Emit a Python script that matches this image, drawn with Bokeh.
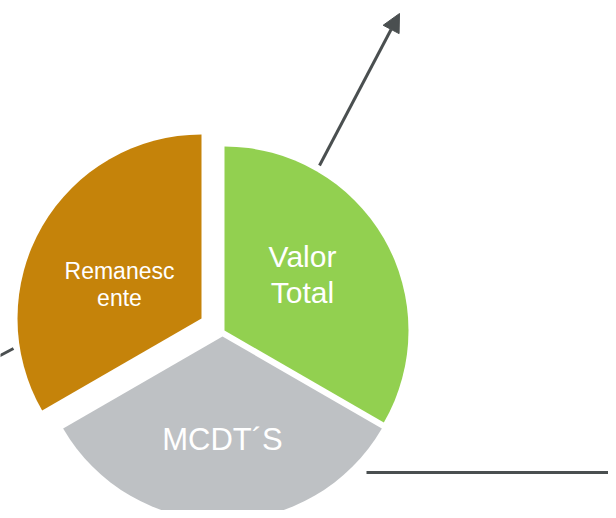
from bokeh.plotting import figure
from bokeh.models import Range1d, Arrow, NormalHead, ColumnDataSource
from bokeh.embed import file_html
from bokeh.resources import INLINE
from bokeh.core.properties import value
import numpy as np

# ---------------- data ----------------
categories = ["Valor Total", "MCDT´S", "Remanescente"]
values = [1, 1, 1]
label_lines = [["Valor", "Total"], ["MCDT´S"], ["Remanesc", "ente"]]

# ---------------- layout / style ----------------
W, H = 608, 510
colors = ["#92D050", "#BEC1C4", "#C5830A"]
apex_x = [224, 222, 201]          # exploded slice apex (px from top-left)
apex_y = [330, 336, 318]
R = 184
label_x = [302, 222, 119]
label_centers = [[256, 292], [439], [270, 297]]
label_sizes = ["30px", "31px", "23px"]
arrow_color = "#4A4F50"
arrows = [((319, 165), (399, 13)), ((366, 472), (633, 472))]
plain_lines = [((-6, 358), (13, 348))]


def sy(y):
    return H - y


vals = np.array(values, dtype=float)
frac = vals / vals.sum()
cum = np.concatenate([[0], np.cumsum(frac)[:-1]])
end_deg = 90 - cum * 360
start_deg = end_deg - frac * 360

src = ColumnDataSource(dict(
    x=apex_x, y=[sy(v) for v in apex_y],
    start=np.radians(start_deg), end=np.radians(end_deg),
    color=colors, cat=categories,
))

p = figure(width=W, height=H, output_backend="svg", toolbar_location=None,
           x_range=Range1d(0, W), y_range=Range1d(0, H), min_border=0)
p.axis.visible = False
p.grid.visible = False
p.outline_line_color = None
p.background_fill_color = "white"
p.border_fill_color = "white"

p.wedge(x="x", y="y", radius=R, start_angle="start", end_angle="end",
        direction="anticlock", fill_color="color", line_color=None, source=src)

for (x0, y0), (x1, y1) in arrows:
    p.add_layout(Arrow(x_start=x0, y_start=sy(y0), x_end=x1, y_end=sy(y1),
                       line_color=arrow_color, line_width=3,
                       end=NormalHead(size=18, fill_color=arrow_color,
                                      line_color=arrow_color, line_width=1)))
for (x0, y0), (x1, y1) in plain_lines:
    p.line([x0, x1], [sy(y0), sy(y1)], line_color=arrow_color, line_width=3)

tx, ty, tt, ts = [], [], [], []
for i, lines in enumerate(label_lines):
    for line, c in zip(lines, label_centers[i]):
        tx.append(label_x[i]); ty.append(sy(c)); tt.append(line); ts.append(label_sizes[i])
p.text(x=tx, y=ty, text=tt, text_font_size=ts, text_color="white",
       text_font=value("Liberation Sans"), text_align="center",
       text_baseline="middle")

open("out.html", "w").write(file_html(p, INLINE))
